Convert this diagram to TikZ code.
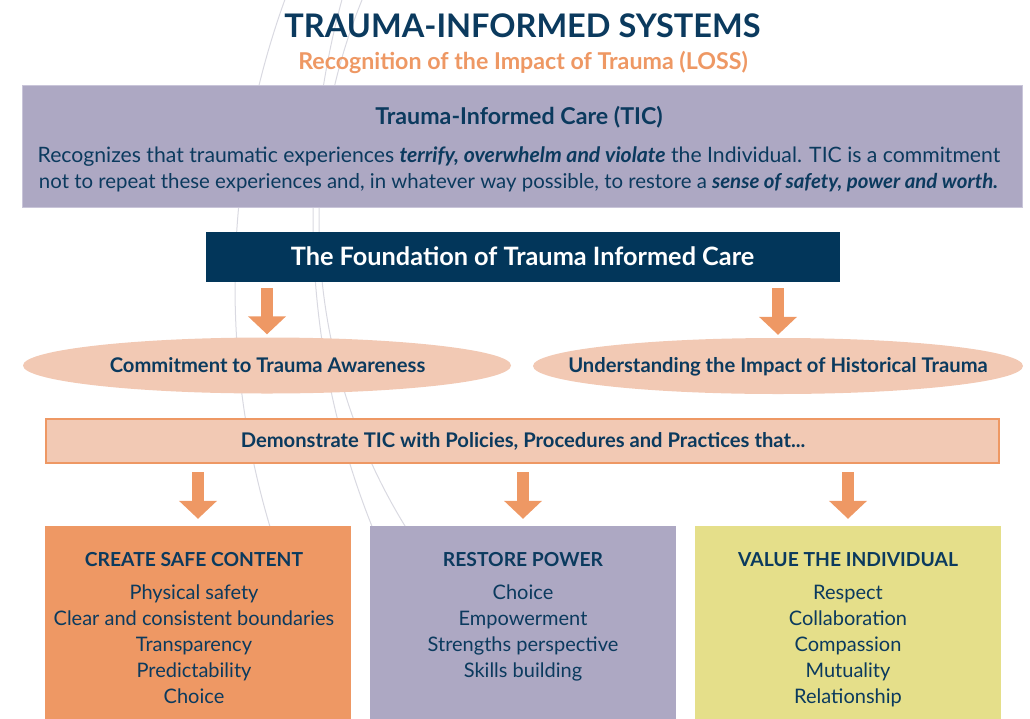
\documentclass[tikz,border=0pt]{standalone}
\usepackage{fontspec}
\setmainfont{Lato}
\usetikzlibrary{arrows.meta,shapes.geometric,calc}

\definecolor{navy}{HTML}{0B3A5E}
\definecolor{navybox}{HTML}{02365A}
\definecolor{orng}{HTML}{EE9864}
\definecolor{peach}{HTML}{F2C9B4}
\definecolor{lilac}{HTML}{ADA8C3}
\definecolor{lilacedge}{HTML}{C9C5D9}
\definecolor{mustard}{HTML}{E5DF8A}
\definecolor{arcgray}{HTML}{D9D9E1}

\newcommand{\fs}[1]{\fontsize{#1}{#1}\selectfont}

\tikzset{
  txt/.style={text=navy, inner sep=0pt, anchor=base},
  panel/.style={inner sep=0pt, draw=none},
  oval/.style={ellipse, fill=peach, draw=none, inner sep=0pt},
  bigarrow/.style={draw=orng, line width=12pt,
    -{Triangle[width=37pt,length=18pt]}},
  itemtxt/.style={txt, font=\fs{20}},
  headtxt/.style={txt, font=\bfseries\fs{19.3}},
}

\begin{document}
\begin{tikzpicture}[x=1pt,y=-1pt]
\useasboundingbox (0,0) rectangle (1030,718);

% faint decorative arcs behind the panels
\begin{scope}
  \clip (0,0) rectangle (1030,526);
  \draw[arcgray, line width=1pt] (1076.6,285.8) circle[radius=841.6];
  \draw[arcgray, line width=1pt] (1145,218) circle[radius=832];
  \draw[arcgray, line width=1pt] (904,220.5) circle[radius=585];
\end{scope}

% title block
\node[txt, font=\bfseries\fs{32.5}] (title) at (522.5,37) {TRAUMA-INFORMED SYSTEMS};
\node[txt, text=orng, font=\bfseries\fs{23.2}] (subtitle) at (523,69)
  {Recognition of the Impact of Trauma (LOSS)};

% trauma-informed care definition
\node[panel, fill=lilac, draw=lilacedge, line width=1pt,
      minimum width=1000pt, minimum height=122pt] (tic) at (522.5,146.5) {};
\node[txt, font=\bfseries\fs{23.2}] (tichead) at (519,124) {Trauma-Informed Care (TIC)};
\node[txt, font=\fs{21.2}] (ticl1) at (519,162)
  {Recognizes that traumatic experiences \textbf{\textit{terrify, overwhelm and violate}} the Individual. TIC is a commitment};
\node[txt, font=\fs{20.4}] (ticl2) at (518.5,188)
  {not to repeat these experiences and, in whatever way possible, to restore a \textbf{\textit{sense of safety, power and worth.}}};

% foundation bar
\node[panel, fill=navybox, minimum width=634pt, minimum height=50pt] (found) at (523,257) {};
\node[txt, text=white, font=\bfseries\fs{25.3}] (foundtxt) at (522.5,265)
  {The Foundation of Trauma Informed Care};

% two pillars
\node[oval, minimum width=488pt, minimum height=56pt] (e1) at (267,365.5) {};
\node[oval, minimum width=490pt, minimum height=56pt] (e2) at (778,366) {};
\node[txt, font=\bfseries\fs{20.2}] (e1txt) at (267.5,372) {Commitment to Trauma Awareness};
\node[txt, font=\bfseries\fs{20.2}] (e2txt) at (778,372) {Understanding the Impact of Historical Trauma};

% practices bar
\node[panel, fill=peach, draw=orng, line width=2.5pt,
      minimum width=953pt, minimum height=44pt] (demo) at (522.5,441) {};
\node[txt, font=\bfseries\fs{20.2}] (demotxt) at (523,447)
  {Demonstrate TIC with Policies, Procedures and Practices that...};

% three outcome panels
\node[panel, fill=orng, minimum width=306pt, minimum height=194pt] (b1) at (198,623) {};
\node[panel, fill=lilac, minimum width=306pt, minimum height=194pt] (b2) at (523,623) {};
\node[panel, fill=mustard, minimum width=306pt, minimum height=194pt] (b3) at (848,623) {};

\node[headtxt] (h1) at (194,566) {CREATE SAFE CONTENT};
\node[headtxt] (h2) at (523,566) {RESTORE POWER};
\node[headtxt] (h3) at (848,566) {VALUE THE INDIVIDUAL};

\foreach \t [count=\i] in {Physical safety, Clear and consistent boundaries,
    Transparency, Predictability, Choice}
  \node[itemtxt] (a\i) at (194,573+26*\i) {\t};
\foreach \t [count=\i] in {Choice, Empowerment, Strengths perspective, Skills building}
  \node[itemtxt] (p\i) at (523,573+26*\i) {\t};
\foreach \t [count=\i] in {Respect, Collaboration, Compassion, Mutuality, Relationship}
  \node[itemtxt] (v\i) at (848,573+26*\i) {\t};

% block arrows
\draw[bigarrow, shorten <=6pt, shorten >=3pt] (found.south -| e1.north) -- (e1.north);
\draw[bigarrow, shorten <=6pt, shorten >=3pt] (found.south -| e2.north) -- (e2.north);
\draw[bigarrow, shorten <=8pt, shorten >=7pt] (demo.south -| b1.north) -- (b1.north);
\draw[bigarrow, shorten <=8pt, shorten >=7pt] (demo.south -| b2.north) -- (b2.north);
\draw[bigarrow, shorten <=8pt, shorten >=7pt] (demo.south -| b3.north) -- (b3.north);
\end{tikzpicture}
\end{document}
